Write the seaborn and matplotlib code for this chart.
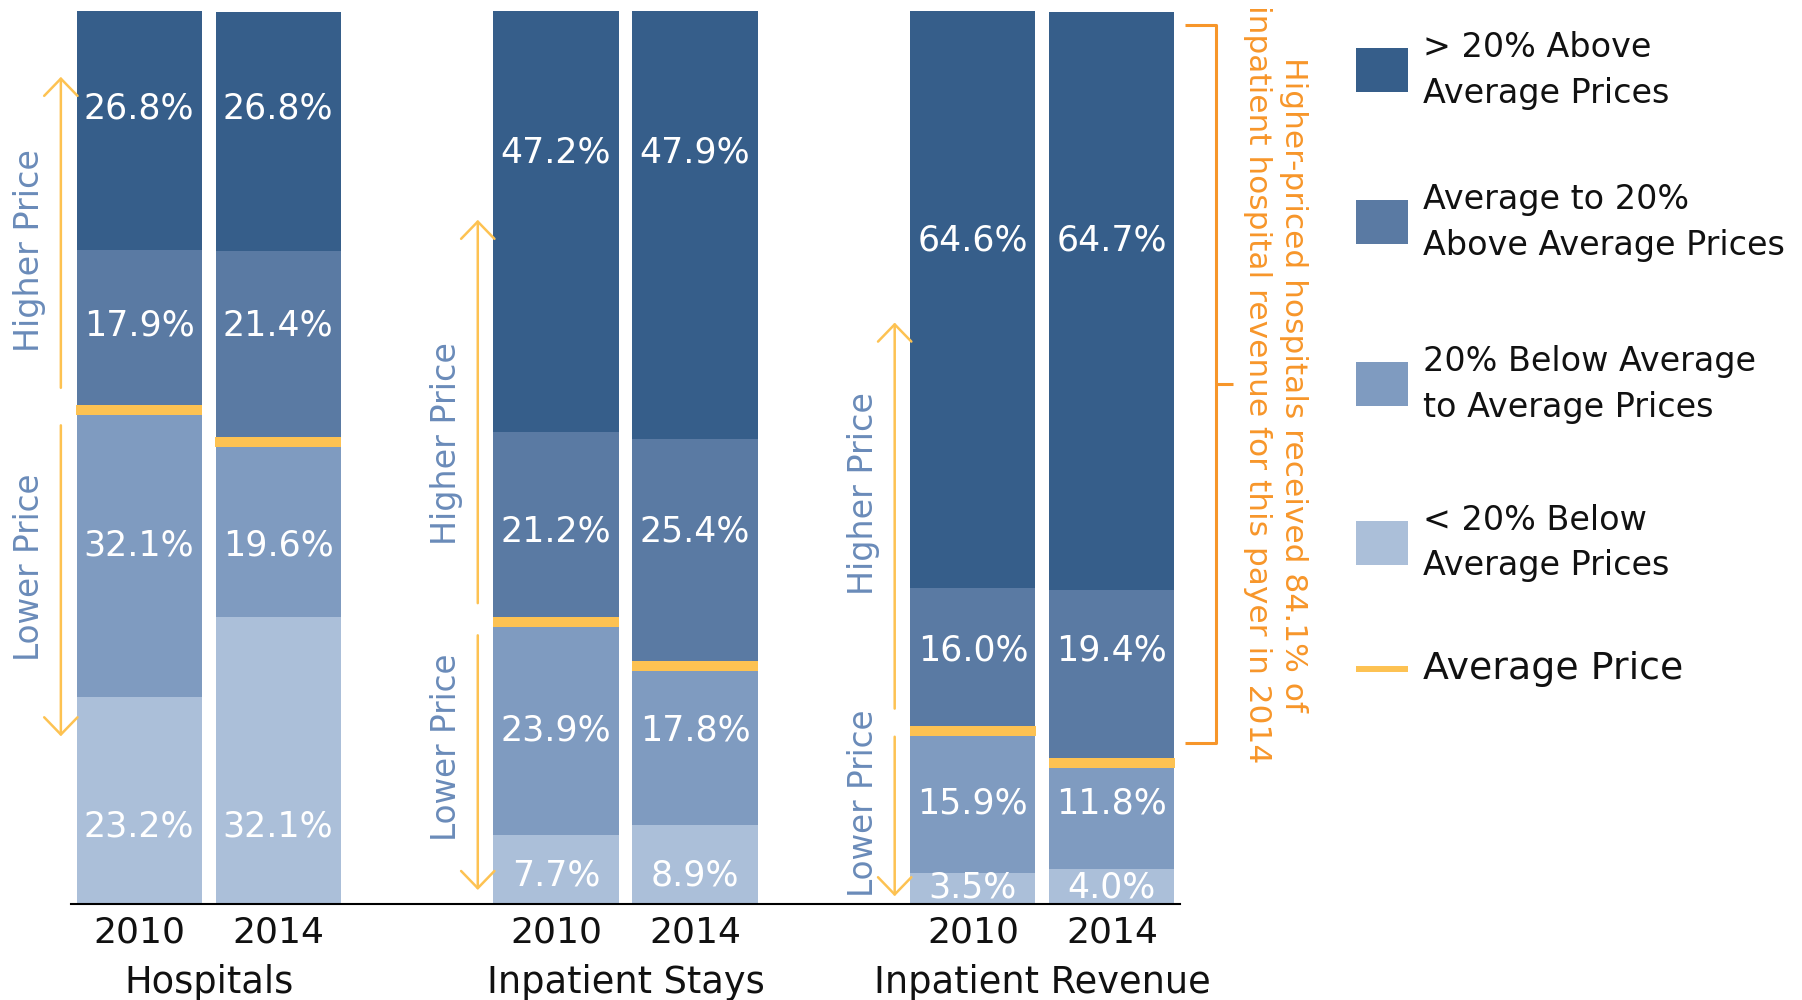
import numpy as np
import pandas as pd
import matplotlib
matplotlib.use("Agg")
import matplotlib.pyplot as plt
import matplotlib.transforms as mtransforms
from matplotlib.patches import Rectangle
from matplotlib.lines import Line2D
import seaborn as sns

# ---- data -------------------------------------------------------------
groups = ["Hospitals", "Inpatient Stays", "Inpatient Revenue"]
years = ["2010", "2014"]
# share (%) per price tier, one value per group/year bar
below_20 = [23.2, 32.1, 7.7, 8.9, 3.5, 4.0]       # < 20% below average
below_avg = [32.1, 19.6, 23.9, 17.8, 15.9, 11.8]  # 20% below to average
above_avg = [17.9, 21.4, 21.2, 25.4, 16.0, 19.4]  # average to 20% above
above_20 = [26.8, 26.8, 47.2, 47.9, 64.6, 64.7]   # > 20% above average

tier_names = [
    "< 20% Below\nAverage Prices",
    "20% Below Average\nto Average Prices",
    "Average to 20%\nAbove Average Prices",
    "> 20% Above\nAverage Prices",
]

# ---- layout / style ---------------------------------------------------
tier_colors = ["#ABBFD9", "#7F9BC0", "#5A7AA3", "#365E8A"]
avg_color = "#FDC252"
note_color = "#F7962A"
side_color = "#6A8BB9"

bar_pos = [0, 1, 3, 4, 6, 7]
label_y = [[8.7, 40.2, 64.8, 89.1],
           [3.2, 19.5, 41.7, 84.1],
           [1.9, 11.3, 28.4, 74.3]]
arrow_spans = [((57.8, 92.6), (53.6, 18.8)),
               ((33.7, 76.6), (30.1, 1.6)),
               ((21.9, 65.1), (18.75, 0.9))]
side_text_y = [(73.2, 37.7), (51.6, 17.6), (46.0, 11.3)]

values = np.array([below_20, below_avg, above_avg, above_20])
cum = np.cumsum(values, axis=0)

df = pd.DataFrame({
    "pos": bar_pos,
    "group": np.repeat(groups, 2),
    "year": years * 3,
})

sns.set_style("white")
plt.rcParams["font.family"] = ["DejaVu Sans"]

W, H = 1802, 1000
fig = plt.figure(figsize=(W / 100, H / 100), dpi=100)
ax = fig.add_axes([71 / W, 95.7 / H, 1109 / W, 893.6 / H])

# stacked bars: draw cumulative totals from the top tier down
for k in reversed(range(4)):
    df["height"] = cum[k]
    sns.barplot(data=df, x="pos", y="height", native_scale=True, width=0.9,
                color=tier_colors[k], saturation=1, errorbar=None,
                linewidth=0, ax=ax)

# average-price marker between below-average and above-average tiers
avg_level = cum[1]
ax.hlines(avg_level, np.array(bar_pos) - 0.452, np.array(bar_pos) + 0.452,
          color=avg_color, lw=7.2, capstyle="butt", zorder=5)

# value labels
for i, p in enumerate(bar_pos):
    g = i // 2
    for k in range(4):
        ax.text(p, label_y[g][k], f"{values[k][i]:.1f}%", ha="center",
                va="center", color="white", fontsize=25, zorder=6)

# higher / lower price arrows beside each group
for g in range(3):
    x = bar_pos[2 * g] - 0.563
    for (start, tip) in arrow_spans[g]:
        ax.annotate("", xy=(x, tip), xytext=(x, start),
                    arrowprops=dict(arrowstyle="->,head_length=0.62,head_width=0.6",
                                    color=avg_color, lw=1.8, shrinkA=0, shrinkB=0,
                                    mutation_scale=20),
                    annotation_clip=False)
    xt = bar_pos[2 * g] - 0.79
    ax.text(xt, side_text_y[g][0], "Higher Price", rotation=90, ha="center",
            va="center", color=side_color, fontsize=24, clip_on=False)
    ax.text(xt, side_text_y[g][1], "Lower Price", rotation=90, ha="center",
            va="center", color=side_color, fontsize=23.5, clip_on=False)

# bracket around the higher-priced share of 2014 revenue
last = len(bar_pos) - 1
share = values[2][last] + values[3][last]
b_bot = cum[1][last] + 2.2
b_top = cum[3][last] - 1.5
b_mid = (b_bot + b_top) / 2
x0, x1, xm = bar_pos[last] + 0.525, bar_pos[last] + 0.748, bar_pos[last] + 0.87
ax.plot([x0, x1, x1, x0], [b_top, b_top, b_bot, b_bot], color=note_color,
        lw=2.2, clip_on=False, solid_capstyle="butt")
ax.plot([x1, xm], [b_mid, b_mid], color=note_color, lw=2.2, clip_on=False,
        solid_capstyle="butt")
ax.text(bar_pos[last] + 1.18, b_mid,
        f"Higher-priced hospitals received {share:.1f}% of\n"
        "inpatient hospital revenue for this payer in 2014",
        rotation=270, ha="center", va="center", multialignment="center",
        color=note_color, fontsize=22.5, linespacing=1.3, clip_on=False)

# axes styling
ax.set_xlim(-0.49, 7.49)
ax.set_ylim(0, 100)
ax.set_xlabel("")
ax.set_ylabel("")
ax.set_yticks([])
for s in ["top", "left", "right"]:
    ax.spines[s].set_visible(False)
ax.spines["bottom"].set_color("black")
ax.spines["bottom"].set_linewidth(1.5)
ax.set_xticks(bar_pos)
ax.set_xticklabels(years * 3)
ax.tick_params(axis="x", which="major", length=0, pad=8, labelsize=26,
               labelcolor="#111111")
ax.set_xticks([2, 5], minor=True)
ax.tick_params(axis="x", which="minor", direction="in", length=16, width=1.4,
               color="black")

trans = mtransforms.blended_transform_factory(ax.transData, fig.transFigure)
for g, name in enumerate(groups):
    ax.text(bar_pos[2 * g] + 0.5, 0.007, name, transform=trans, ha="center",
            va="baseline", fontsize=26.5, color="#111111", clip_on=False)

# legend
patch_cy = [543, 384, 222, 70]
for k in range(4):
    cy = patch_cy[k]
    fig.add_artist(Rectangle((1356 / W, 1 - (cy + 22) / H), 52 / W, 44 / H,
                             transform=fig.transFigure, color=tier_colors[k], lw=0))
    fig.text(1423 / W, 1 - cy / H, tier_names[k], ha="left", va="center",
             fontsize=24, linespacing=1.5, color="#111111")
fig.add_artist(Line2D([1356 / W, 1408 / W], [1 - 669 / H] * 2, lw=4.3,
                      color=avg_color, transform=fig.transFigure,
                      solid_capstyle="butt"))
fig.text(1423 / W, 1 - 669 / H, "Average Price", ha="left", va="center",
         fontsize=27.3, color="#111111")

fig.savefig("out.png", dpi=100)
